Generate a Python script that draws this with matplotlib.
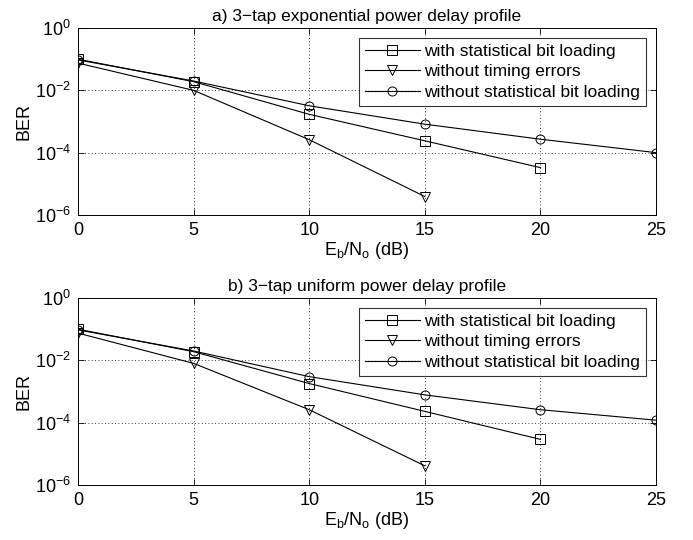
import numpy as np
import matplotlib
matplotlib.use("Agg")
import matplotlib.pyplot as plt

plt.rcParams['font.family'] = ['Liberation Sans', 'DejaVu Sans']
plt.rcParams['mathtext.fontset'] = 'custom'
plt.rcParams['mathtext.rm'] = 'Liberation Sans'
plt.rcParams['mathtext.it'] = 'Liberation Sans'

# Eb/No (dB)
snr_sq = [0, 5, 10, 15, 20]
snr_tri = [0, 5, 10, 15]
snr_circ = [0, 5, 10, 15, 20, 25]

# a) exponential PDP
ber_a_sq = [0.10, 0.019, 1.7e-3, 2.4e-4, 3.3e-5]
ber_a_tri = [0.075, 0.010, 2.6e-4, 3.9e-6]
ber_a_circ = [0.095, 0.020, 3.2e-3, 8.2e-4, 2.7e-4, 1.0e-4]

# b) uniform PDP
ber_b_sq = [0.10, 0.019, 1.8e-3, 2.3e-4, 2.9e-5]
ber_b_tri = [0.075, 8.0e-3, 2.6e-4, 4.1e-6]
ber_b_circ = [0.095, 0.020, 3.0e-3, 7.8e-4, 2.6e-4, 1.2e-4]

titles = ['a) 3\u2212tap exponential power delay profile',
          'b) 3\u2212tap uniform power delay profile']
labels = ['with statistical bit loading', 'without timing errors',
          'without statistical bit loading']

fig = plt.figure(figsize=(6.93, 5.40), dpi=100)
ax_a = fig.add_axes([0.1126, 0.602, 0.834, 0.346])
ax_b = fig.add_axes([0.1126, 0.102, 0.834, 0.346])

data = [(ax_a, ber_a_sq, ber_a_tri, ber_a_circ),
        (ax_b, ber_b_sq, ber_b_tri, ber_b_circ)]

for i, (ax, sq, tri, circ) in enumerate(data):
    kw = dict(color='black', lw=0.8, markersize=6.5, markerfacecolor='none',
              markeredgewidth=0.7)
    ax.semilogy(snr_sq, sq, marker='s', label=labels[0], **kw)
    ax.semilogy(snr_tri, tri, marker='v', label=labels[1], **kw)
    ax.semilogy(snr_circ, circ, marker='o', label=labels[2], **kw)
    ax.set_xlim(0, 25)
    ax.set_ylim(1e-6, 1)
    ax.set_xticks([0, 5, 10, 15, 20, 25])
    ax.set_yticks([1e-6, 1e-4, 1e-2, 1])
    ax.yaxis.set_minor_locator(matplotlib.ticker.NullLocator())
    ax.grid(True, which='major', linestyle=(0, (1, 3)), color='black', lw=0.6)
    ax.tick_params(direction='in', top=True, right=True, labelsize=13,
                   length=4, width=0.6, pad=5)
    for s in ax.spines.values():
        s.set_linewidth(0.7)
    ax.set_ylabel('BER', fontsize=13, labelpad=2)
    ax.set_xlabel(r'E$_\mathregular{b}$/N$_\mathregular{o}$ (dB)', fontsize=13,
                  labelpad=1)
    ax.set_title(titles[i], fontsize=12.5, pad=5)
    leg = ax.legend(loc='upper right', fontsize=12.5, frameon=True, fancybox=False,
                    edgecolor='black', borderaxespad=0.55, handlelength=3.2,
                    labelspacing=0.3, borderpad=0.35, handletextpad=0.25)
    leg.get_frame().set_linewidth(0.8)

fig.savefig('out.png', dpi=100)
